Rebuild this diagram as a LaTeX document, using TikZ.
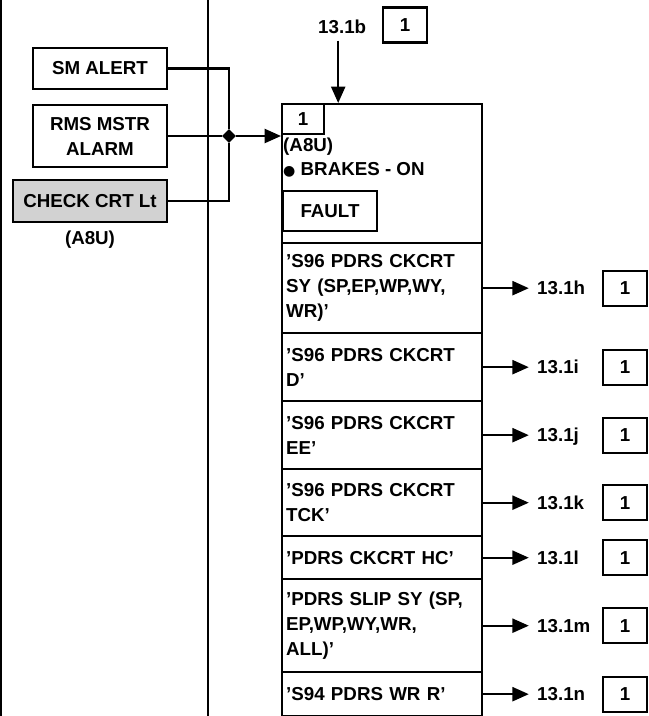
\documentclass[tikz,border=0pt]{standalone}
\usepackage{fontspec}
\setmainfont{Liberation Sans}
\newfontfamily\symfont{DejaVu Sans}
\usetikzlibrary{arrows.meta,shapes.geometric}

\begin{document}
\begin{tikzpicture}[x=0.03cm,y=-0.03cm,>={Triangle[length=14pt,width=12pt]},
  font=\bfseries\fontsize{16}{21.3}\selectfont,
  box/.style={draw,line width=2pt,inner sep=2pt},
  alert/.style={box,minimum width=4.02cm,align=center},
  row/.style={box,anchor=north west,minimum width=6cm,text width=5.76cm,inner xsep=0.12cm,align=left},
  ref/.style={anchor=west,inner sep=0pt,text height=11.5pt,text depth=0pt},
  refbox/.style={box,minimum width=1.32cm,minimum height=1.05cm},
  line/.style={line width=1.8pt}]
\useasboundingbox (0,0) rectangle (649,716);
\draw[line] (1,0) -- (1,716);
\draw[line] (208,0) -- (208,716);
% inputs
\node[alert,minimum height=1.23cm] (smalert) at (100,68.5) {SM ALERT};
\node[alert,minimum height=1.86cm] (rms) at (100,136) {RMS MSTR\\ALARM};
\node[box,fill=gray!35,minimum width=4.62cm,minimum height=1.26cm] (checkcrt) at (90,201) {CHECK CRT Lt};
\node (checkloc) at (90,240) {(A8U)};
\node[diamond,fill,inner sep=0pt,minimum size=12pt] (junc) at (229,136) {};
% brakes block
\node[box,anchor=north west,minimum width=6cm,minimum height=4.17cm] (brakes) at (281,103) {};
\node[box,anchor=north west,minimum width=1.26cm,minimum height=0.9cm,inner sep=0pt] (corner) at (281,103) {1};
\node[anchor=west,inner sep=0pt] (brakesloc) at (283,147) {(A8U)};
\node[anchor=west,inner sep=0pt] (brakeson) at (283,170) {{\symfont\fontsize{12}{12}\selectfont ●} BRAKES - ON};
\node[box,minimum width=2.82cm,minimum height=1.2cm] (fault) at (330,211) {FAULT};
\node[ref] (from13b) at (318,27) {13.1b};
\node[refbox] (box13b) at (405,25) {1};
% messages
\node[row,minimum height=2.7cm] (msgsy) at (281,242) {'S96 PDRS CKCRT\\SY (SP,EP,WP,WY,\\WR)'};
\node[row,minimum height=2.04cm] (msgd) at (281,332) {'S96 PDRS CKCRT\\D'};
\node[row,minimum height=2.04cm] (msgee) at (281,400) {'S96 PDRS CKCRT\\EE'};
\node[row,minimum height=2.01cm] (msgtck) at (281,468) {'S96 PDRS CKCRT\\TCK'};
\node[row,minimum height=1.29cm] (msghc) at (281,535) {'PDRS CKCRT HC'};
\node[row,minimum height=2.79cm] (msgslip) at (281,578) {'PDRS SLIP SY (SP,\\EP,WP,WY,WR,\\ALL)'};
\node[row,minimum height=1.32cm] (msgwr) at (281,671) {'S94 PDRS WR R'};
\foreach \m/\s in {sy/h,d/i,ee/j,tck/k,hc/l,slip/m,wr/n} {
  \node[ref] (to\s) at (537,0 |- msg\m.east) {13.1\s};
  \node[refbox] (box\s) at (625,0 |- msg\m.east) {1};
  \draw[line,->,shorten >=7pt] (msg\m.east) -- (to\s.west);
}
\draw[line] (smalert.east) -| (junc.north);
\draw[line] (checkcrt.east) -| (junc.south);
\draw[line,->] (rms.east) -- (junc) -- (junc -| brakes.west);
\draw[line,->] ([xshift=-0.12cm]from13b.south) ++(0,-0.2cm) -- ([xshift=-0.12cm]from13b.south |- brakes.north);
\end{tikzpicture}
\end{document}
